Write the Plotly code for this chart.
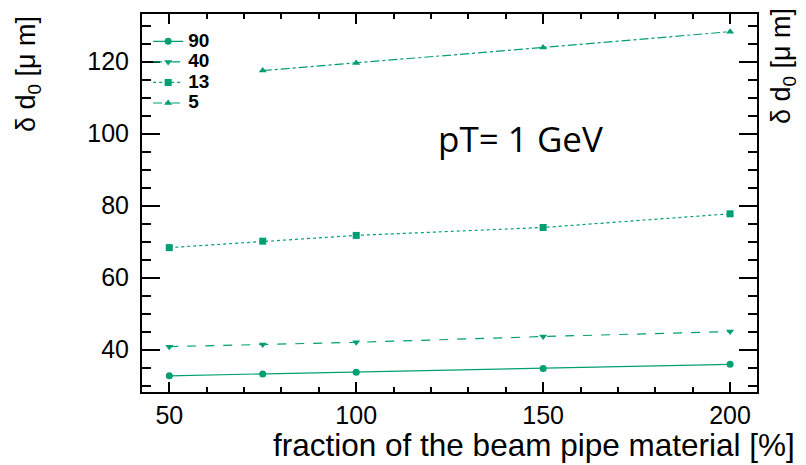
import plotly.graph_objects as go

# fraction of the beam pipe material [%]
fraction = [50, 75, 100, 150, 200]

# impact-parameter resolution delta d0 [um] for each polar angle (deg)
d0_theta90 = [32.7, 33.2, 33.7, 34.7, 35.9]
d0_theta40 = [40.8, 41.4, 42.0, 43.6, 45.0]
d0_theta13 = [68.3, 70.1, 71.7, 73.9, 77.7]
d0_theta5 = [None, 117.5, 119.6, 123.9, 128.3]

series_names = ["90", "40", "13", "5"]
series_values = [d0_theta90, d0_theta40, d0_theta13, d0_theta5]
series_dash = ["solid", "dash", "dot", "dashdot"]
series_symbol = ["circle", "triangle-down", "square", "triangle-up"]
series_msize = [7, 7, 7, 7]

GREEN = "#009E73"
FONT = "Liberation Sans, Arial, Helvetica, sans-serif"

fig = go.Figure()
for name, vals, dash, sym, ms in zip(series_names, series_values, series_dash,
                                     series_symbol, series_msize):
    fig.add_trace(go.Scatter(
        x=fraction, y=vals,
        name=f'<span style="font-size:19px">{name}</span>',
        mode="lines+markers",
        line=dict(color=GREEN, width=1.2, dash=dash),
        marker=dict(color=GREEN, symbol=sym, size=ms),
        legendgroup=name,
    ))

axis_common = dict(
    showgrid=False, zeroline=False,
    showline=True, linecolor="black", linewidth=2, mirror="ticks",
    ticks="inside", tickcolor="black", tickwidth=1.6,
    tickfont=dict(family=FONT, size=25, color="black"),
)

fig.update_xaxes(
    range=[42.7, 207.2], tickmode="linear", tick0=50, dtick=50, ticklen=10,
    minor=dict(dtick=10, ticklen=5, ticks="inside", tickcolor="black", tickwidth=1.6),
    **axis_common,
)
fig.update_yaxes(
    range=[28.2, 133.2], tickmode="linear", tick0=40, dtick=20, ticklen=18,
    minor=dict(dtick=5, ticklen=9, ticks="inside", tickcolor="black", tickwidth=1.6),
    ticklabelstandoff=6,
    **axis_common,
)

ytitle = "δ d<sub>0</sub> [μ m]"
ytitle_font = dict(family=FONT, size=27, color="black")

fig.add_annotation(text="fraction of the beam pipe material [%]",
                   xref="paper", yref="paper", x=1, y=0,
                   xanchor="right", yanchor="middle", xshift=40, yshift=-53,
                   showarrow=False, font=dict(family=FONT, size=31.5, color="black"))
fig.add_annotation(text=ytitle, textangle=-90,
                   xref="paper", yref="paper", x=0, y=1,
                   xanchor="center", yanchor="middle", xshift=-114, yshift=-60,
                   showarrow=False, font=ytitle_font)
fig.add_annotation(text=ytitle, textangle=-90,
                   xref="paper", yref="paper", x=1, y=1,
                   xanchor="center", yanchor="middle", xshift=26, yshift=-52,
                   showarrow=False, font=ytitle_font)
fig.add_annotation(text="pT= 1 GeV",
                   xref="paper", yref="paper", x=0, y=1,
                   xanchor="center", yanchor="middle", xshift=378, yshift=-124,
                   showarrow=False,
                   font=dict(family="Open Sans, sans-serif", size=35, color="black"))

fig.update_layout(
    width=806, height=465,
    margin=dict(l=142, r=49, t=14, b=73),
    paper_bgcolor="white", plot_bgcolor="white",
    showlegend=True,
    legend=dict(
        x=0.01, y=0.968, xanchor="left", yanchor="top",
        bgcolor="rgba(0,0,0,0)", borderwidth=0,
        font=dict(family=FONT, size=13.5, color="black", weight="bold"),
        tracegroupgap=0, itemwidth=30,
    ),
)

fig.write_html("out.html")
